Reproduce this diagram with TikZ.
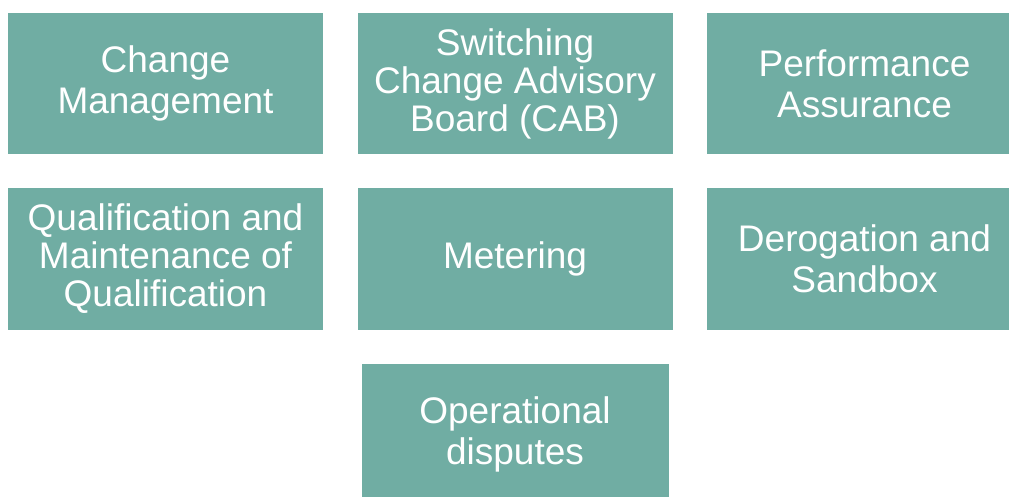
\documentclass[tikz,border=0pt]{standalone}
\usepackage{fontspec}
\setmainfont{Liberation Sans}
\definecolor{tealbox}{RGB}{112,173,163}

\begin{document}
\begin{tikzpicture}[x=1pt,y=-1pt,
  tile/.style={fill=tealbox, draw=none, text=white, align=center,
    minimum width=315pt, minimum height=141pt, inner sep=0pt,
    font=\fontsize{37}{41}\selectfont},
  tight/.style={font=\fontsize{37}{38}\selectfont}]

\useasboundingbox (0,0) rectangle (1009,497);

% ---- Top row ----
\node[tile] (change) at (165.5,83.5) {Change\\Management};
\node[tile,tight] (cab) at (515,83.5) {Switching\\Change Advisory\\Board (CAB)};
\node[tile] (perf) at (864.5,83.5) {Performance\\Assurance};

% ---- Middle row ----
\node[tile,tight] (qual) at (165.5,259) {Qualification and\\Maintenance of\\Qualification};
\node[tile] (meter) at (515,259) {Metering};
\node[tile] (derog) at (864.5,259) {Derogation and\\Sandbox};

% ---- Bottom row ----
\node[tile,minimum width=307pt] (disputes) at (515,434.5) {Operational\\disputes};

\end{tikzpicture}
\end{document}
